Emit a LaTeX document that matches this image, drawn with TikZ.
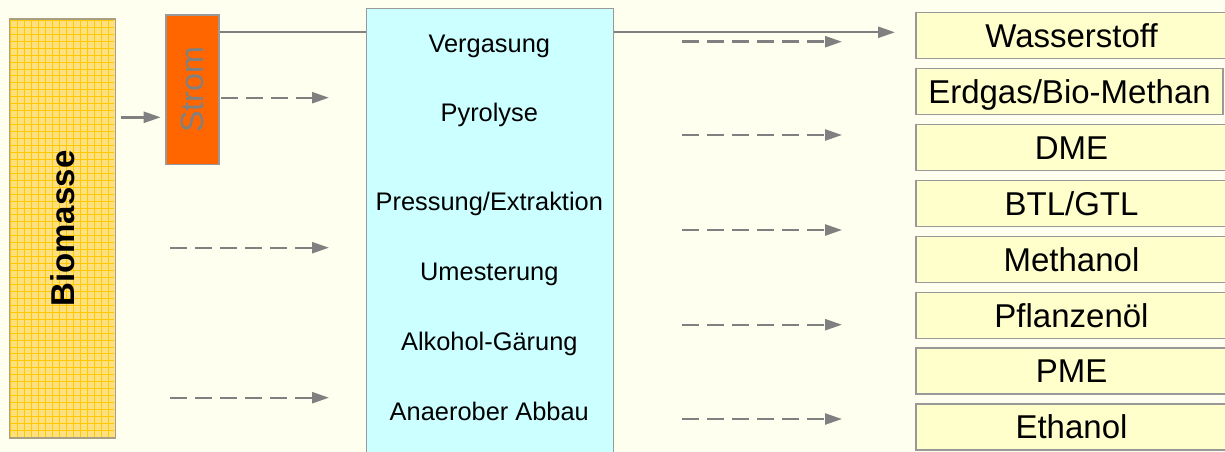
\documentclass[tikz,border=0pt]{standalone}
\usepackage{fontspec}
\setmainfont{Liberation Sans}
\usetikzlibrary{arrows.meta}
\definecolor{bgc}{HTML}{FFFFF0}
\definecolor{biofill}{HTML}{FFE07E}
\definecolor{biogrid}{HTML}{FFC800}
\definecolor{bioborder}{HTML}{A8A080}
\definecolor{stromc}{HTML}{FF6600}
\definecolor{procc}{HTML}{CCFFFF}
\definecolor{prodc}{HTML}{FFFFCC}
\definecolor{edgec}{HTML}{999999}
\definecolor{arrc}{HTML}{808080}
\tikzset{
  boxframe/.style={draw=edgec, line width=1.4pt, inner sep=0pt, anchor=north west},
  prodbox/.style={boxframe, fill=prodc, minimum height=46pt, text height=23.6pt, text depth=0pt,
     font=\fontsize{33}{36}\selectfont, anchor=center},
  proctext/.style={anchor=base, font=\fontsize{25.4}{28}\selectfont},
  arrline/.style={draw=arrc, line width=2.4pt},
  arr/.style={arrline, -{Triangle[length=17pt,width=11pt]}},
  darr/.style={arr, dash pattern=on 17pt off 8pt},
}
\begin{document}
\begin{tikzpicture}[x=1pt,y=-1pt]
\fill[bgc] (0,0) rectangle (1225,452);
\useasboundingbox (0,0) rectangle (1225,452);

% Biomasse
\node[boxframe, draw=none, fill=biofill, minimum width=105pt, minimum height=417.7pt] (bio) at (9.3,19) {};
\begin{scope}
  \clip (bio.north west) rectangle (bio.south east);
  \foreach \i in {0,...,15} \draw[biogrid, line width=0.9pt] (10.8+6.95*\i,19) -- ++(0,418);
  \foreach \j in {0,...,60} \draw[biogrid, line width=0.9pt] (9.3,20.3+6.95*\j) -- ++(105,0);
\end{scope}
\draw[bioborder, line width=1.4pt] (bio.north west) rectangle (bio.south east);
\node[rotate=90, font=\bfseries\fontsize{33}{36}\selectfont] (biolabel) at (bio.center) {Biomasse};

% Strom
\node[boxframe, fill=stromc, minimum width=53pt, minimum height=149.4pt] (strom) at (165.3,14.3) {};
\node[rotate=90, text=arrc, font=\fontsize{32.2}{36}\selectfont] (stromlabel) at (strom.center) {Strom};

% process box
\node[boxframe, fill=procc, minimum width=247.3pt, minimum height=480pt] (proc) at (365.7,7.7) {};
\node[proctext] (p1) at (489.3,52.3) {Vergasung};
\node[proctext] (p2) at (489.3,121.7) {Pyrolyse};
\node[proctext] (p3) at (489.3,210.7) {Pressung/Extraktion};
\node[proctext] (p4) at (489.3,280.7) {Umesterung};
\node[proctext] (p5) at (489.3,350.7) {Alkohol-Gärung};
\node[proctext] (p6) at (489.3,420.7) {Anaerober Abbau};

% products
\node[prodbox, minimum width=311pt] (r1) at (1071.5,35.7) {Wasserstoff};
\node[prodbox, minimum width=307pt] (r2) at (1069.5,91.6) {Erdgas/Bio-Methan};
\node[prodbox, minimum width=311pt] (r3) at (1071.5,147.5) {DME};
\node[prodbox, minimum width=311pt] (r4) at (1071.5,203.4) {BTL/GTL};
\node[prodbox, minimum width=311pt] (r5) at (1071.5,259.3) {Methanol};
\node[prodbox, minimum width=311pt] (r6) at (1071.5,315.2) {Pflanzenöl};
\node[prodbox, minimum width=311pt] (r7) at (1071.5,371.1) {PME};
\node[prodbox, minimum width=311pt] (r8) at (1071.5,427) {Ethanol};

% connectors
\coordinate (bs) at (120.5,117.3);
\coordinate (be) at (160.7,117.3);
\draw[arr] (bs) -- (be);
\draw[arrline] (strom.east |- 0,32.3) -- (proc.west |- 0,32.3);
\coordinate (we) at (895,32.3);
\draw[arr] (proc.east |- 0,32.3) -- (we);

\coordinate (sa) at (221,97.7);   \coordinate (sb) at (329,97.7);
\draw[darr] (sa) -- (sb);
\coordinate (la1) at (170,247.7); \coordinate (lb1) at (329,247.7);
\draw[darr] (la1) -- (lb1);
\coordinate (la2) at (170,397.7); \coordinate (lb2) at (329,397.7);
\draw[darr] (la2) -- (lb2);

\foreach \y [count=\k] in {41.7,135,230,324.7,419} {
  \coordinate (ra\k) at (682,\y);
  \coordinate (rb\k) at (842,\y);
  \draw[darr] (ra\k) -- (rb\k);
}
\end{tikzpicture}
\end{document}
